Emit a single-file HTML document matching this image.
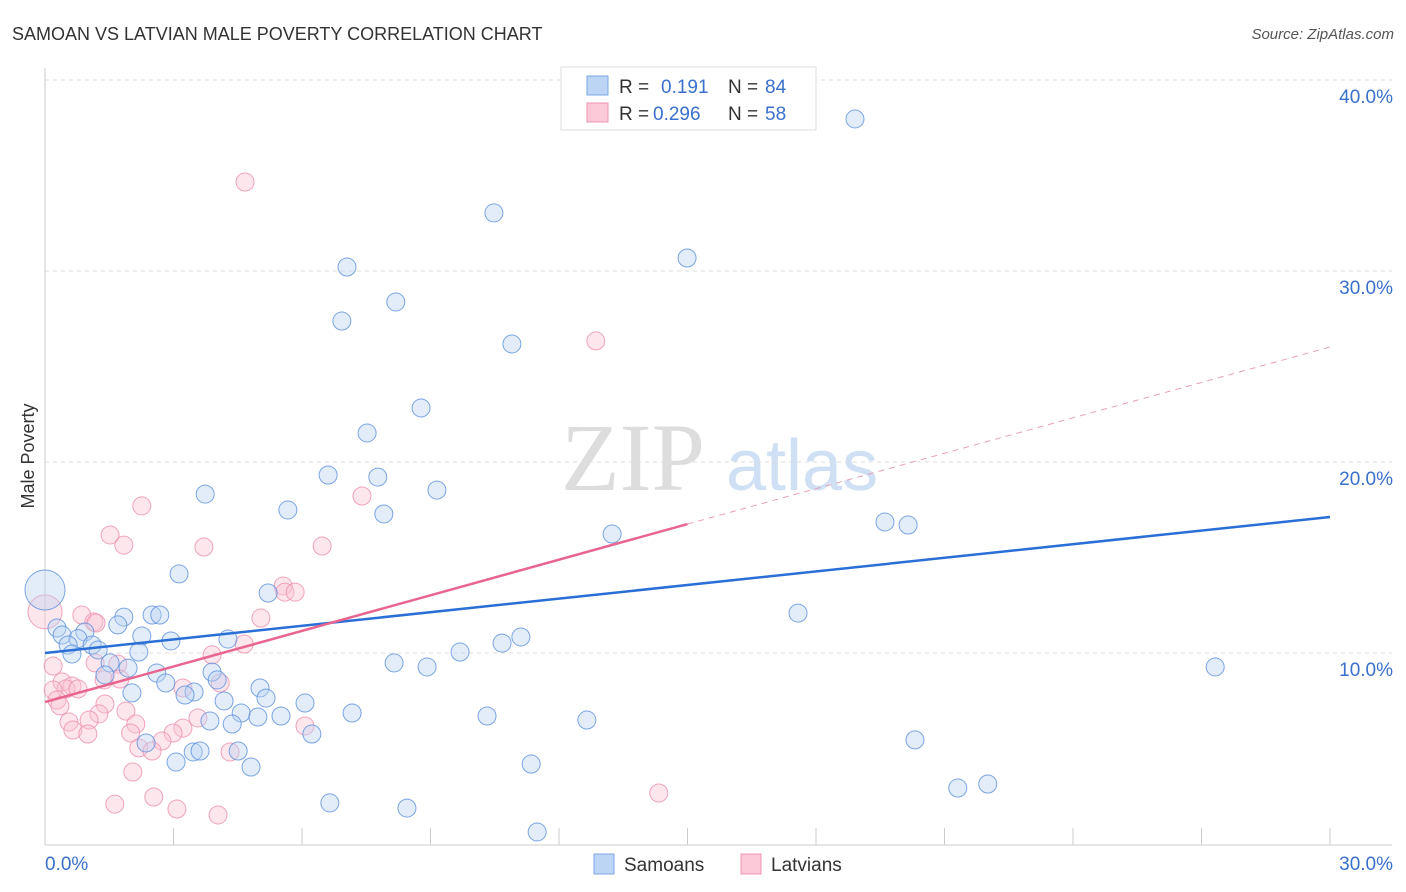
<!DOCTYPE html>
<html><head><meta charset="utf-8"><style>
body{margin:0;background:#fff;font-family:"Liberation Sans",sans-serif;}
#wrap{position:relative;width:1406px;height:892px;overflow:hidden;}
</style></head><body>
<div id="wrap">
<svg id="svg" width="1406" height="892" xmlns="http://www.w3.org/2000/svg">
<text x="12" y="40" font-size="18" fill="#333">SAMOAN VS LATVIAN MALE POVERTY CORRELATION CHART</text>
<text x="1394" y="39" font-size="15" fill="#555" font-style="italic" text-anchor="end">Source: ZipAtlas.com</text>
<text x="34" y="456" font-size="18" fill="#333" text-anchor="middle" transform="rotate(-90 34 456)">Male Poverty</text>
<g><text x="633" y="490" font-size="96" fill="#ddd" font-family="Liberation Serif,serif" text-anchor="middle">ZIP</text><text x="802" y="490" font-size="72" fill="#cfe0f5" text-anchor="middle">atlas</text></g>
<g id="grid"></g><g id="marks"></g><g id="lines"></g>
<g>
<rect x="561" y="67" width="255" height="63" fill="#fff" stroke="#ddd"/>
<rect x="587" y="76" width="21" height="19" fill="#bcd5f5" stroke="#7aa7e6"/>
<rect x="587" y="103" width="21" height="19" fill="#fbc9d8" stroke="#ef95b1"/>
<text x="619" y="93" font-size="19" fill="#333">R = </text><text x="661" y="93" font-size="19" fill="#3a70cc">0.191</text>
<text x="728" y="93" font-size="19" fill="#333">N = </text><text x="765" y="93" font-size="19" fill="#3a70cc">84</text>
<text x="619" y="120" font-size="19" fill="#333">R = </text><text x="653" y="120" font-size="19" fill="#3a70cc">0.296</text>
<text x="728" y="120" font-size="19" fill="#333">N = </text><text x="765" y="120" font-size="19" fill="#3a70cc">58</text>
</g>
<g>
<rect x="594" y="854" width="20" height="20" fill="#bcd5f5" stroke="#7aa7e6"/>
<text x="624" y="871" font-size="19" fill="#333">Samoans</text>
<rect x="741" y="854" width="20" height="20" fill="#fbc9d8" stroke="#ef95b1"/>
<text x="771" y="871" font-size="19" fill="#333">Latvians</text>
</g>
</svg>
</div>
<script>
const yTicks=[10,20,30,40];
const yTickLabels=["10.0%","20.0%","30.0%","40.0%"];
const xTicks=[0,3,6,9,12,15,18,21,24,27,30];
const samoanX=[18.91,10.48,14.99,7.05,8.19,6.93,10.90,8.78,7.52,6.61,7.77,9.15,3.74,7.91,5.67,19.61,20.15,13.24,3.13,5.21,0,17.58,1.84,2.50,2.68,1.70,0.28,0.40,0.93,2.26,2.94,4.27,11.11,10.67,0.77,0.54,1.10,1.24,0.63,2.19,9.69,8.15,8.92,1.52,1.94,27.32,2.61,3.90,4.02,1.40,2.82,5.02,3.48,2.03,3.27,4.18,5.16,6.07,4.58,7.17,10.32,4.97,5.51,3.85,4.37,12.65,6.23,20.31,2.36,4.51,3.46,3.62,3.06,4.81,11.35,21.31,22.01,6.65,8.45,11.49];
const samoanY=[37.96,33.04,30.68,30.21,28.38,27.38,26.18,22.83,21.52,19.32,19.21,18.53,18.32,17.28,17.49,16.86,16.70,16.23,14.14,13.14,13.3,12.09,11.88,11.99,11.99,11.47,11.31,10.94,11.10,10.89,10.63,10.73,10.84,10.52,10.75,10.42,10.42,10.16,9.95,10.05,10.05,9.48,9.27,9.48,9.21,9.27,8.95,9.0,8.59,8.85,8.43,8.17,7.96,7.91,7.80,7.49,7.64,7.38,6.86,6.86,6.70,6.65,6.70,6.44,6.28,6.49,5.76,5.45,5.29,4.87,4.82,4.87,4.29,4.03,4.19,2.93,3.14,2.15,1.88,0.63];
const samoanR=[9,9,9,9,9,9,9,9,9,9,9,9,9,9,9,9,9,9,9,9,20];
const latvianX=[4.67,12.86,7.40,2.26,1.52,1.84,3.71,6.47,5.56,5.60,5.84,0,0.86,1.14,5.04,1.19,4.65,3.90,0.19,1.17,1.70,1.38,4.09,0.40,0.63,0.49,0.77,3.22,1.75,0.19,0.28,0.35,1.40,1.89,1.26,1.03,0.56,2.12,3.57,6.07,3.22,2.99,2.00,0.65,1.00,2.73,2.19,2.50,4.32,2.05,14.33,2.54,1.63,3.08,4.04];
const latvianY=[34.66,26.34,18.22,17.70,16.18,15.65,15.55,15.60,13.51,13.19,13.19,12.15,11.99,11.62,11.83,11.57,10.47,9.90,9.32,9.48,9.42,8.59,8.43,8.48,8.27,8.12,8.12,8.17,8.64,8.06,7.54,7.23,7.33,6.96,6.81,6.49,6.39,6.28,6.60,6.18,6.07,5.81,5.81,5.97,5.76,5.39,5.03,4.87,4.82,3.77,2.67,2.46,2.09,1.83,1.52];
const latvianR=[9,9,9,9,9,9,9,9,9,9,9,17];
const samoanTrend=[0,10.0,30,17.12];
const latvianTrend=[0,7.43,15,16.75,30,26.02];
const X=v=>45+v/30*1285, Y=v=>844-v*19.1;
const NS="http://www.w3.org/2000/svg";
function mk(tag,attrs,parent){const e=document.createElementNS(NS,tag);for(const k in attrs)e.setAttribute(k,attrs[k]);parent.appendChild(e);return e;}
const grid=document.getElementById('grid'),marks=document.getElementById('marks'),lines=document.getElementById('lines');
yTicks.forEach((t,i)=>{
 const g=mk('line',{x1:45,x2:1392,y1:Y(t),y2:Y(t),stroke:'#ddd','stroke-dasharray':'4,4'},grid);
 
 
 const l=mk('text',{x:1393,y:Y(t)+23,'font-size':19,fill:'#3a70cc','text-anchor':'end'},grid);
 l.textContent=yTickLabels[i];
 
 
});
const ax=mk('line',{x1:45,x2:1392,y1:845,y2:845,stroke:'#ccc'},grid);


const ay=mk('line',{x1:45,x2:45,y1:68,y2:845,stroke:'#ccc'},grid);


xTicks.forEach(t=>{
 const k=mk('line',{x1:X(t),x2:X(t),y1:828,y2:845,stroke:'#ccc'},grid);
 
 
});
[[0,'0.0%',45,'start'],[30,'30.0%',1393,'end']].forEach(a=>{
 const l=mk('text',{x:a[2],y:870,'font-size':19,fill:'#3a70cc','text-anchor':a[3]},grid);
 l.textContent=a[1];
 
 
});
function dots(xs,ys,rs,fill,stroke,name){xs.forEach((x,i)=>{
 const c=mk('circle',{cx:X(x),cy:Y(ys[i]),r:rs[i]||9,fill:fill,'fill-opacity':0.4,stroke:stroke,'stroke-opacity':0.8,'stroke-width':1},marks);
 
 
});}
dots(latvianX,latvianY,latvianR,'#f9c2d3','#ec8fae','latvian-point');
dots(samoanX,samoanY,samoanR,'#b9d3f3','#5c90dc','samoan-point');
const bl=mk('line',{x1:X(samoanTrend[0]),y1:Y(samoanTrend[1]),x2:X(samoanTrend[2]),y2:Y(samoanTrend[3]),stroke:'#2a6fd6','stroke-width':2.5},lines);


const pl=mk('line',{x1:X(latvianTrend[0]),y1:Y(latvianTrend[1]),x2:X(latvianTrend[2]),y2:Y(latvianTrend[3]),stroke:'#e8658f','stroke-width':2.5},lines);


const pd=mk('line',{x1:X(latvianTrend[2]),y1:Y(latvianTrend[3]),x2:X(latvianTrend[4]),y2:Y(latvianTrend[5]),stroke:'#e8a0b8','stroke-width':1,'stroke-dasharray':'6,5'},lines);


</script>
</body></html>
